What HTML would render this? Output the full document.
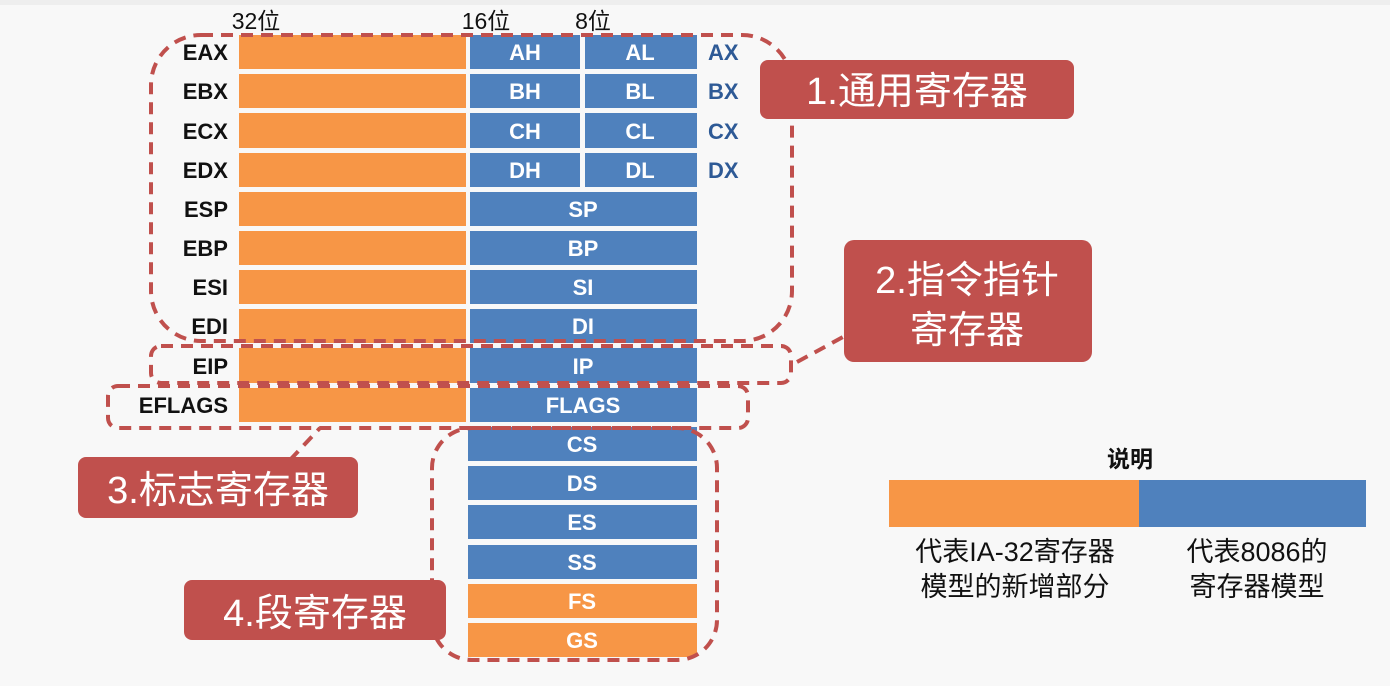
<!DOCTYPE html>
<html><head><meta charset="utf-8"><style>
html,body{margin:0;padding:0;background:#f8f8f8;}
svg{display:block;}
text{font-family:"Liberation Sans","Noto Sans CJK SC",sans-serif;}
</style></head><body>
<svg width="1390" height="686" viewBox="0 0 1390 686" xmlns="http://www.w3.org/2000/svg">
<rect width="1390" height="686" fill="#f8f8f8"/>
<rect width="1390" height="5" fill="#eeeeee"/>
<g font-size="23" text-anchor="middle" fill="#111">
<text x="256" y="29">32位</text><text x="486" y="29">16位</text><text x="593" y="29">8位</text>
</g>
<g id="rows">
<rect x="239" y="35" width="227" height="34" fill="#f79646"/>
<rect x="239" y="74" width="227" height="34" fill="#f79646"/>
<rect x="239" y="113" width="227" height="35" fill="#f79646"/>
<rect x="239" y="153" width="227" height="34" fill="#f79646"/>
<rect x="239" y="192" width="227" height="34" fill="#f79646"/>
<rect x="239" y="231" width="227" height="34" fill="#f79646"/>
<rect x="239" y="270" width="227" height="34" fill="#f79646"/>
<rect x="239" y="309" width="227" height="34" fill="#f79646"/>
<rect x="239" y="348" width="227" height="35" fill="#f79646"/>
<rect x="239" y="388" width="227" height="34" fill="#f79646"/>
<g fill="#4f81bd">
<rect x="470" y="35" width="110" height="34"/><rect x="585" y="35" width="112" height="34"/>
<rect x="470" y="74" width="110" height="34"/><rect x="585" y="74" width="112" height="34"/>
<rect x="470" y="113" width="110" height="35"/><rect x="585" y="113" width="112" height="35"/>
<rect x="470" y="153" width="110" height="34"/><rect x="585" y="153" width="112" height="34"/>
<rect x="470" y="192" width="227" height="34"/>
<rect x="470" y="231" width="227" height="34"/>
<rect x="470" y="270" width="227" height="34"/>
<rect x="470" y="309" width="227" height="34"/>
<rect x="470" y="348" width="227" height="35"/>
<rect x="470" y="388" width="227" height="34"/>
<rect x="468" y="427" width="229" height="34"/>
<rect x="468" y="466" width="229" height="34"/>
<rect x="468" y="505" width="229" height="34"/>
<rect x="468" y="545" width="229" height="34"/>
</g>
<rect x="468" y="584" width="229" height="34" fill="#f79646"/>
<rect x="468" y="623" width="229" height="34" fill="#f79646"/>
</g>
<g font-size="22" font-weight="bold" text-anchor="end" fill="#111">
<text x="228" y="60">EAX</text><text x="228" y="99">EBX</text><text x="228" y="139">ECX</text><text x="228" y="178">EDX</text>
<text x="228" y="217">ESP</text><text x="228" y="256">EBP</text><text x="228" y="295">ESI</text><text x="228" y="334">EDI</text>
<text x="228" y="374">EIP</text><text x="228" y="413">EFLAGS</text>
</g>
<g font-size="22" font-weight="bold" fill="#2e5a96">
<text x="708" y="60">AX</text><text x="708" y="99">BX</text><text x="708" y="139">CX</text><text x="708" y="178">DX</text>
</g>
<g font-size="22" font-weight="bold" text-anchor="middle" fill="#fff">
<text x="525" y="60">AH</text><text x="640" y="60">AL</text>
<text x="525" y="99">BH</text><text x="640" y="99">BL</text>
<text x="525" y="139">CH</text><text x="640" y="139">CL</text>
<text x="525" y="178">DH</text><text x="640" y="178">DL</text>
<text x="583" y="217">SP</text><text x="583" y="256">BP</text><text x="583" y="295">SI</text><text x="583" y="334">DI</text>
<text x="583" y="374">IP</text><text x="583" y="413">FLAGS</text>
<text x="582" y="452">CS</text><text x="582" y="491">DS</text><text x="582" y="530">ES</text><text x="582" y="570">SS</text>
<text x="582" y="609">FS</text><text x="582" y="648">GS</text>
</g>
<g fill="none" stroke="#c0504d" stroke-width="4" stroke-dasharray="12,8">
<rect x="151" y="35" width="641" height="306" rx="50"/>
<rect x="151" y="346" width="640" height="37" rx="10"/>
<rect x="108" y="386" width="640" height="42" rx="10"/>
<rect x="432" y="428" width="285" height="232" rx="40"/>
<line x1="797" y1="362" x2="843" y2="337"/>
<line x1="290" y1="460" x2="320" y2="428"/>
</g>
<g fill="#c0504d">
<rect x="760" y="60" width="314" height="59" rx="8"/>
<rect x="844" y="240" width="248" height="122" rx="10"/>
<rect x="78" y="457" width="280" height="61" rx="8"/>
<rect x="184" y="580" width="262" height="60" rx="8"/>
</g>
<g font-size="38" fill="#fff" text-anchor="middle">
<text x="917" y="104">1.通用寄存器</text>
<text x="967" y="293">2.指令指针</text>
<text x="967" y="343">寄存器</text>
<text x="218" y="503">3.标志寄存器</text>
<text x="315" y="626">4.段寄存器</text>
</g>
<text x="1130" y="467" font-size="23" font-weight="bold" text-anchor="middle" fill="#111">说明</text>
<rect x="889" y="480" width="250" height="47" fill="#f79646"/>
<rect x="1139" y="480" width="227" height="47" fill="#4f81bd"/>
<g font-size="27" text-anchor="middle" fill="#111">
<text x="1015" y="561">代表IA-32寄存器</text>
<text x="1015" y="596">模型的新增部分</text>
<text x="1257" y="561">代表8086的</text>
<text x="1257" y="596">寄存器模型</text>
</g>
</svg>
</body></html>
